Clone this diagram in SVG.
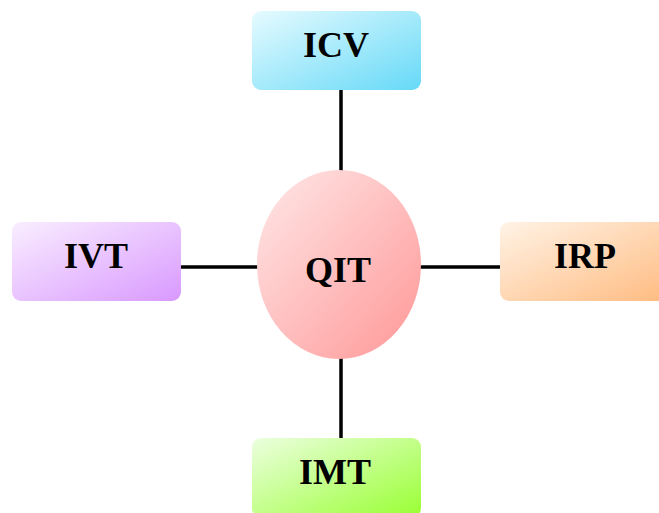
<svg xmlns="http://www.w3.org/2000/svg" width="659" height="513" viewBox="0 0 659 513">
<defs>
<linearGradient id="gICV" x1="0" y1="0" x2="1" y2="1"><stop offset="0" stop-color="#e6fbff"/><stop offset="1" stop-color="#66d9f7"/></linearGradient>
<linearGradient id="gIVT" x1="0" y1="0" x2="1" y2="1"><stop offset="0" stop-color="#f9eeff"/><stop offset="1" stop-color="#d999ff"/></linearGradient>
<linearGradient id="gIRP" x1="0" y1="0" x2="1" y2="1"><stop offset="0" stop-color="#fff3e6"/><stop offset="1" stop-color="#ffbb80"/></linearGradient>
<linearGradient id="gIMT" x1="0" y1="0" x2="1" y2="1"><stop offset="0" stop-color="#ecffdf"/><stop offset="1" stop-color="#99ff33"/></linearGradient>
<linearGradient id="gQIT" x1="0" y1="0" x2="1" y2="1"><stop offset="0" stop-color="#ffe8e8"/><stop offset="1" stop-color="#ff9797"/></linearGradient>
</defs>
<style>
.lbl{font-family:"Liberation Serif","Times New Roman",serif;font-weight:bold;font-size:36px;fill:#000;text-anchor:middle}
.edge{stroke:#000;stroke-width:3.5;fill:none}
</style>
<g id="connectors">
<line class="edge" x1="341" y1="90" x2="341" y2="171"/>
<line class="edge" x1="341" y1="358" x2="341" y2="438"/>
<line class="edge" x1="181" y1="267" x2="258" y2="267"/>
<line class="edge" x1="420" y1="267" x2="500" y2="267"/>
</g>
<g id="QIT">
<ellipse cx="339" cy="264.5" rx="82" ry="94.5" fill="url(#gQIT)"/>
<text class="lbl" x="338" y="282">QIT</text>
</g>
<g id="ICV">
<rect x="252" y="11" width="169" height="79" rx="9" fill="url(#gICV)"/>
<text class="lbl" x="336" y="57">ICV</text>
</g>
<g id="IVT">
<rect x="12" y="222" width="169" height="79" rx="9" fill="url(#gIVT)"/>
<text class="lbl" x="96" y="268">IVT</text>
</g>
<g id="IRP">
<rect x="500" y="222" width="169" height="79" rx="9" fill="url(#gIRP)"/>
<text class="lbl" x="585" y="268">IRP</text>
</g>
<g id="IMT">
<rect x="252" y="438" width="169" height="79" rx="9" fill="url(#gIMT)"/>
<text class="lbl" x="335" y="484">IMT</text>
</g>
</svg>
